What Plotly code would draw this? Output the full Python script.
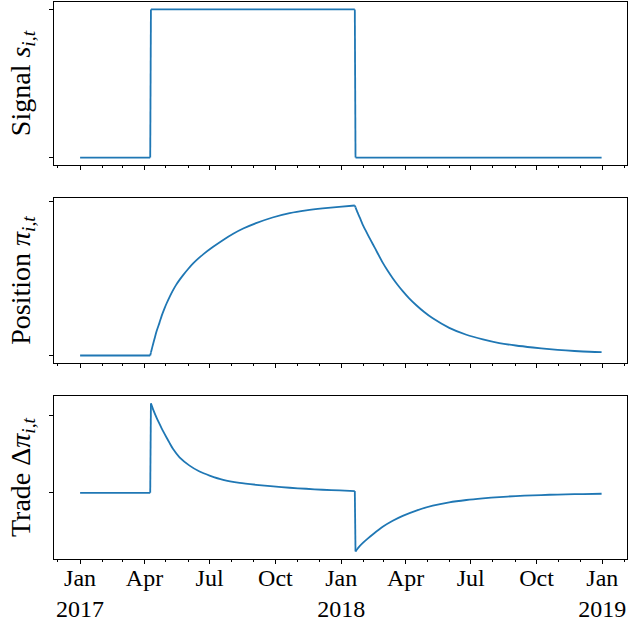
import plotly.graph_objects as go
from plotly.subplots import make_subplots

# ---- data ----
signal_dates = ["2017-01-01", "2017-04-09", "2017-04-10", "2018-01-20", "2018-01-21", "2018-12-31"]
signal_values = [0, 0, 1, 1, 0, 0]

position_dates = [
    "2017-01-01", "2017-04-09", "2017-04-10", "2017-04-12", "2017-04-15", "2017-04-18",
    "2017-04-22", "2017-04-25", "2017-04-29", "2017-05-02", "2017-05-06", "2017-05-10",
    "2017-05-15", "2017-05-20", "2017-05-25", "2017-06-01", "2017-06-08", "2017-06-15",
    "2017-06-22", "2017-07-06", "2017-07-20",
    "2017-08-03", "2017-08-17", "2017-09-04", "2017-09-27", "2017-10-21", "2017-11-13",
    "2017-12-06", "2017-12-29", "2018-01-20", "2018-01-21", "2018-01-24", "2018-01-27",
    "2018-01-31", "2018-02-05", "2018-02-11", "2018-02-17",
    "2018-02-28", "2018-03-07", "2018-03-14", "2018-03-21", "2018-03-28", "2018-04-06",
    "2018-04-16", "2018-04-27", "2018-05-09", "2018-06-01",
    "2018-06-25", "2018-07-18", "2018-08-10", "2018-09-02", "2018-09-26", "2018-10-19",
    "2018-11-11", "2018-12-05", "2018-12-31",
]
position_values = [
    0.0, 0.0, 0.019, 0.056, 0.109, 0.160,
    0.214, 0.258, 0.307, 0.340, 0.380, 0.417,
    0.458, 0.492, 0.523, 0.563, 0.599, 0.630,
    0.658, 0.707, 0.752,
    0.792, 0.826, 0.861, 0.898, 0.926, 0.944,
    0.957, 0.967, 0.976, 0.964, 0.929, 0.897,
    0.852, 0.806, 0.752, 0.700,
    0.604, 0.551, 0.503, 0.459, 0.419, 0.372,
    0.327, 0.283, 0.242, 0.180,
    0.135, 0.105, 0.081, 0.065, 0.052, 0.041,
    0.033, 0.026, 0.022,
]

trade_dates = [
    "2017-01-01", "2017-04-09", "2017-04-10", "2017-04-13", "2017-04-18", "2017-04-21",
    "2017-04-25", "2017-05-02", "2017-05-06",
    "2017-05-11", "2017-05-20", "2017-06-03", "2017-06-17", "2017-07-01", "2017-07-20",
    "2017-08-12", "2017-09-04", "2017-09-28", "2017-10-21", "2017-11-13", "2017-12-06",
    "2017-12-30", "2018-01-20", "2018-01-21", "2018-01-25", "2018-02-01", "2018-02-07",
    "2018-02-14", "2018-02-28",
    "2018-03-14", "2018-03-28", "2018-04-16", "2018-05-09", "2018-06-01", "2018-06-25",
    "2018-07-18", "2018-08-10", "2018-09-02", "2018-09-26", "2018-10-19", "2018-11-11",
    "2018-12-05", "2018-12-31",
]
trade_values = [
    0.0, 0.0, 1.163, 1.085, 0.975, 0.915,
    0.839, 0.717, 0.649,
    0.569, 0.461, 0.354, 0.277, 0.225, 0.169,
    0.130, 0.105, 0.083, 0.066, 0.053, 0.040,
    0.031, 0.023, -0.764, -0.712, -0.645, -0.595,
    -0.541, -0.442,
    -0.364, -0.300, -0.231, -0.166, -0.123, -0.093,
    -0.072, -0.055, -0.042, -0.033, -0.025, -0.020,
    -0.016, -0.012,
]

# dates where the signal switches (series have a corner/jump there)
switch_dates = ["2017-04-09", "2017-04-10", "2018-01-20", "2018-01-21"]

major_tick_dates = ["2017-01-01", "2017-04-01", "2017-07-01", "2017-10-01", "2018-01-01",
                    "2018-04-01", "2018-07-01", "2018-10-01", "2019-01-01"]
major_tick_labels = ["Jan<br>2017", "Apr", "Jul", "Oct", "Jan<br>2018", "Apr", "Jul", "Oct", "Jan<br>2019"]
minor_tick_dates = [
    "2016-12-01", "2017-02-01", "2017-03-01", "2017-05-01", "2017-06-01", "2017-08-01",
    "2017-09-01", "2017-11-01", "2017-12-01", "2018-02-01", "2018-03-01", "2018-05-01",
    "2018-06-01", "2018-08-01", "2018-09-01", "2018-11-01", "2018-12-01", "2019-02-01",
]

y_titles = ["Signal <i>s</i><sub><i>i,t</i></sub>",
            "Position <i>π</i><sub><i>i,t</i></sub>",
            "Trade Δ<i>π</i><sub><i>i,t</i></sub>"]

# ---- figure ----
BLUE = "#1f77b4"
FONT = "Liberation Serif"
TICK_FS = 24
TITLE_FS = 28

fig = make_subplots(rows=3, cols=1, shared_xaxes=True)


def pieces(dates, values):
    """Split a series at the switch dates; smooth pieces get a spline."""
    cuts = [i for i, d in enumerate(dates) if d in switch_dates]
    bounds = sorted(set([0] + cuts + [len(dates) - 1]))
    return [(dates[a:b + 1], values[a:b + 1]) for a, b in zip(bounds[:-1], bounds[1:])]


series = [(signal_dates, signal_values), (position_dates, position_values), (trade_dates, trade_values)]
for row, (d, v) in enumerate(series, start=1):
    for pd_, pv in pieces(d, v):
        smooth = row > 1 and len(pd_) > 2
        fig.add_trace(go.Scatter(
            x=pd_, y=pv, mode="lines",
            line=dict(color=BLUE, width=1.8, shape="spline" if smooth else "linear",
                      smoothing=0.6 if smooth else None),
            showlegend=False, hoverinfo="skip"), row=row, col=1)

W, H = 642, 622
ml, mr, mt, mb = 54, 15, 2, 63
ph = H - mt - mb


def dom(top_px, bot_px):
    return [(H - mb - bot_px) / ph, (H - mb - top_px) / ph]


domains = [dom(2, 165), dom(198, 363), dom(396, 559)]


def yrange(vals):
    lo, hi = min(vals), max(vals)
    pad = 0.05 * (hi - lo)
    return [lo - pad, hi + pad]


ranges = [yrange(signal_values), yrange(position_values), yrange(trade_values)]

axis_common = dict(showline=True, linecolor="black", linewidth=1.3, mirror=True,
                   showgrid=False, zeroline=False, ticks="outside", tickcolor="black",
                   tickwidth=1, ticklen=4, automargin=False)

for i in range(3):
    sfx = "" if i == 0 else str(i + 1)
    fig.layout["yaxis" + sfx].update(
        domain=domains[i], range=ranges[i], tickmode="array", tickvals=[0, 1],
        showticklabels=False,
        title=dict(text=y_titles[i], font=dict(family=FONT, size=TITLE_FS, color="black"), standoff=10),
        **axis_common)
    fig.layout["xaxis" + sfx].update(
        type="date", range=["2016-11-25 12:00", "2019-02-04 12:00"],
        tickmode="array", tickvals=major_tick_dates, ticktext=major_tick_labels,
        showticklabels=(i == 2), ticklabelstandoff=-7,
        tickfont=dict(family=FONT, size=TICK_FS, color="black"),
        minor=dict(tickmode="array", tickvals=minor_tick_dates, ticks="outside",
                   ticklen=2, tickwidth=1, tickcolor="black", showgrid=False),
        **axis_common)

fig.update_layout(width=W, height=H, margin=dict(l=ml, r=mr, t=mt, b=mb),
                  paper_bgcolor="white", plot_bgcolor="white",
                  font=dict(family=FONT, size=TICK_FS, color="black"))

fig.write_html("out.html", config={"displayModeBar": False},
               post_script="document.body.style.margin='0';document.body.style.padding='0';")
